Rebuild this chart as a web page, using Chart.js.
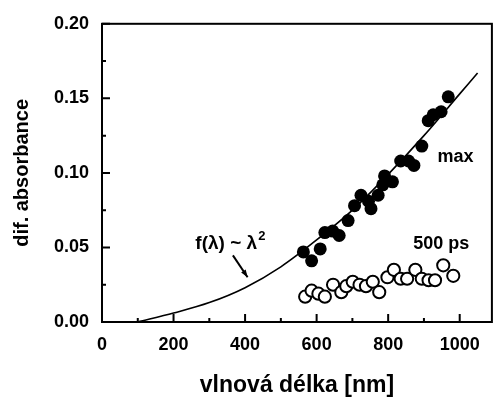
<!DOCTYPE html>
<html>
<head>
<meta charset="utf-8">
<script src="https://cdn.jsdelivr.net/npm/chart.js@4.4.0/dist/chart.umd.min.js"></script>
<style>
  html, body { margin: 0; padding: 0; background: #fff; }
  #wrap { width: 500px; height: 397px; }
</style>
</head>
<body>
<div id="wrap"><canvas id="chart"></canvas></div>
<script>
// fit curve f(λ) ~ λ²
const curveX = [100, 200, 300, 400, 500, 600, 700, 800, 900, 1000, 1050];
const curveY = [0.000, 0.006, 0.013, 0.023, 0.037, 0.055, 0.075, 0.099, 0.125, 0.153, 0.167];

// "max" series (filled circles)
const maxX = [563, 586, 610, 623, 645, 663, 688, 706, 724, 745, 752, 772, 785, 790, 812, 835, 857, 872, 894, 912, 926, 948, 968];
const maxY = [0.047, 0.041, 0.049, 0.060, 0.061, 0.058, 0.068, 0.078, 0.085, 0.081, 0.076, 0.085, 0.092, 0.098, 0.094, 0.108, 0.108, 0.105, 0.118, 0.135, 0.139, 0.141, 0.151];

// "500 ps" series (open circles)
const psX = [568, 586, 605, 623, 646, 669, 683, 701, 720, 738, 757, 775, 798, 816, 835, 853, 876, 894, 913, 931, 954, 982];
const psY = [0.017, 0.021, 0.019, 0.017, 0.025, 0.020, 0.024, 0.027, 0.025, 0.024, 0.027, 0.020, 0.030, 0.035, 0.029, 0.029, 0.035, 0.029, 0.028, 0.028, 0.038, 0.031];

const xMajor = [0, 200, 400, 600, 800, 1000];
const xMinor = [100, 300, 500, 700, 900];
const yMajor = [0, 0.05, 0.10, 0.15, 0.20];
const yMinor = [0.025, 0.075, 0.125, 0.175];

const toPts = (xs, ys) => xs.map((x, i) => ({ x: x, y: ys[i] }));
const FONT = '"Liberation Sans", Arial, sans-serif';

// rámeček, značky os a popisky v grafu
const framePlugin = {
    id: 'frame',
    afterDraw(chart) {
        const { ctx, chartArea: a, scales: { x, y } } = chart;
        ctx.save();
        ctx.strokeStyle = '#000';
        ctx.lineWidth = 2;
        ctx.strokeRect(a.left, a.top, a.right - a.left, a.bottom - a.top);

        ctx.beginPath();
        xMajor.forEach(v => { const px = x.getPixelForValue(v); ctx.moveTo(px, a.bottom); ctx.lineTo(px, a.bottom - 8); });
        xMinor.forEach(v => { const px = x.getPixelForValue(v); ctx.moveTo(px, a.bottom); ctx.lineTo(px, a.bottom - 4); });
        yMajor.forEach(v => { const py = y.getPixelForValue(v); ctx.moveTo(a.left, py); ctx.lineTo(a.left + 8, py); });
        yMinor.forEach(v => { const py = y.getPixelForValue(v); ctx.moveTo(a.left, py); ctx.lineTo(a.left + 4, py); });
        ctx.stroke();

        ctx.fillStyle = '#000';
        ctx.textBaseline = 'middle';
        ctx.textAlign = 'left';
        ctx.font = 'bold 18px ' + FONT;
        ctx.fillText('max', x.getPixelForValue(938), y.getPixelForValue(0.1107));
        ctx.fillText('500 ps', x.getPixelForValue(870), y.getPixelForValue(0.052));

        const fx = x.getPixelForValue(261), fy = y.getPixelForValue(0.0527);
        const lbl = 'f(\u03bb) ~ \u03bb';
        ctx.font = 'bold 19px ' + FONT;
        ctx.fillText(lbl, fx, fy);
        const w = ctx.measureText(lbl).width;
        ctx.font = 'bold 13px ' + FONT;
        ctx.fillText('2', fx + w + 1, fy - 7);

        // šipka
        const x1 = x.getPixelForValue(366), y1 = y.getPixelForValue(0.0447);
        const x2 = x.getPixelForValue(407), y2 = y.getPixelForValue(0.030);
        ctx.lineWidth = 2;
        ctx.beginPath();
        ctx.moveTo(x1, y1);
        ctx.lineTo(x2, y2);
        ctx.stroke();
        const ang = Math.atan2(y2 - y1, x2 - x1);
        ctx.beginPath();
        ctx.moveTo(x2, y2);
        ctx.lineTo(x2 - 8 * Math.cos(ang - 0.35), y2 - 8 * Math.sin(ang - 0.35));
        ctx.lineTo(x2 - 8 * Math.cos(ang + 0.35), y2 - 8 * Math.sin(ang + 0.35));
        ctx.closePath();
        ctx.fill();
        ctx.restore();
    }
};

new Chart(document.getElementById('chart').getContext('2d'), {
    type: 'scatter',
    data: {
        datasets: [{
            type: 'line',
            label: 'f',
            data: toPts(curveX, curveY),
            borderColor: '#000',
            borderWidth: 1.6,
            pointRadius: 0,
            cubicInterpolationMode: 'monotone',
            fill: false
        }, {
            label: 'max',
            data: toPts(maxX, maxY),
            pointRadius: 6.5,
            pointBackgroundColor: '#000',
            pointBorderColor: '#000',
            pointBorderWidth: 0
        }, {
            label: '500 ps',
            data: toPts(psX, psY),
            pointRadius: 6.1,
            pointBackgroundColor: '#fff',
            pointBorderColor: '#000',
            pointBorderWidth: 2
        }]
    },
    options: {
        responsive: true,
        maintainAspectRatio: false,
        animation: false,
        layout: { padding: { top: 22, right: 2, left: 0, bottom: 0 } },
        plugins: { legend: { display: false }, tooltip: { enabled: false } },
        scales: {
            x: {
                type: 'linear',
                min: 0,
                max: 1090,
                grid: { display: false, drawTicks: false },
                border: { display: false },
                afterFit(scale) { scale.height = 75; },
                ticks: {
                    stepSize: 200,
                    includeBounds: false,
                    padding: 12,
                    color: '#000',
                    font: { family: FONT, size: 18, weight: 'bold' },
                    maxRotation: 0,
                    callback: v => String(v)
                },
                title: {
                    display: true,
                    text: 'vlnová délka [nm]',
                    color: '#000',
                    padding: { top: 0, bottom: -2 },
                    font: { family: FONT, size: 23, weight: 'bold' }
                }
            },
            y: {
                min: 0,
                max: 0.2,
                grid: { display: false, drawTicks: false },
                border: { display: false },
                afterFit(scale) { scale.width = 102; },
                ticks: {
                    stepSize: 0.05,
                    padding: 13,
                    color: '#000',
                    font: { family: FONT, size: 18, weight: 'bold' },
                    callback: v => v.toFixed(2)
                },
                title: {
                    display: true,
                    text: 'dif. absorbance',
                    color: '#000',
                    padding: { top: 10, bottom: 0 },
                    font: { family: FONT, size: 20, weight: 'bold' }
                }
            }
        }
    },
    plugins: [framePlugin]
});
</script>
</body>
</html>
